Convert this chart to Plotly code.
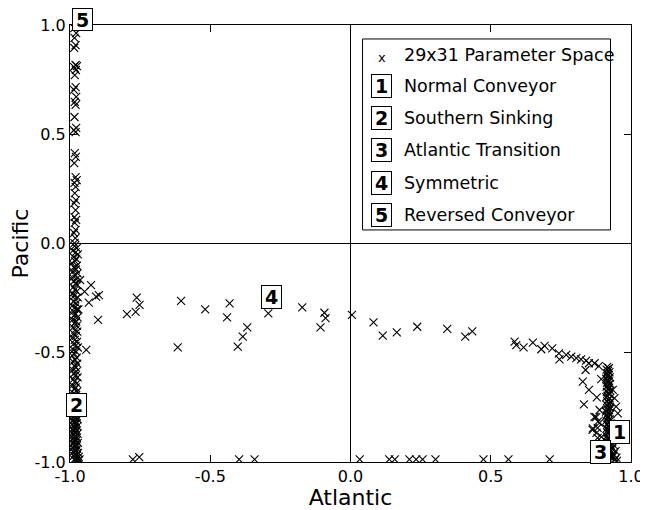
import plotly.graph_objects as go

# ---------------- data ----------------
# left column, upper half (Reversed Conveyor region)
left_upper = [(-0.985,0.986),(-0.978,0.963),(-0.984,0.941),(-0.98,0.908),(-0.985,0.895),(-0.98,0.817),
              (-0.975,0.812),(-0.986,0.808),(-0.979,0.794),(-0.983,0.771),(-0.98,0.716),(-0.986,0.703),
              (-0.978,0.671),(-0.983,0.648),(-0.98,0.634),(-0.984,0.579),(-0.978,0.529),(-0.986,0.519),
              (-0.98,0.51),(-0.983,0.414),(-0.979,0.396),(-0.985,0.368),(-0.98,0.304),(-0.976,0.29),
              (-0.984,0.277),(-0.98,0.259),(-0.983,0.231),(-0.979,0.199),(-0.985,0.185),(-0.98,0.153),
              (-0.984,0.121),(-0.978,0.108),(-0.983,0.094),(-0.98,0.062),(-0.986,0.048),(-0.981,0.025),
              (-0.984,0.002)]

left_mid_x = [-0.984,-0.976,-0.99,-0.98,-0.972,-0.987,-0.978,-0.982,-0.993,-0.975,
              -0.985,-0.979,-0.989,-0.973,-0.983,-0.991,-0.977,-0.986,-0.98,-0.974,
              -0.988,-0.982,-0.976,-0.99,-0.985,-0.972,-0.981,-0.987,-0.977,-0.992,
              -0.983,-0.975,-0.988,-0.98,-0.986,-0.973,-0.99,-0.978,-0.984,-0.976,
              -0.989,-0.981,-0.974,-0.987,-0.979,-0.991,-0.983,-0.975,-0.986,-0.98,
              -0.972,-0.988,-0.978,-0.985,-0.992,-0.976,-0.982,-0.989,-0.974,-0.984,
              -0.979,-0.99,-0.977,-0.986,-0.981,-0.973,-0.988,-0.983,-0.976,-0.991,
              -0.98,-0.985,-0.974,-0.987,-0.978,-0.99,-0.982,-0.975,-0.986,-0.98,
              -0.984]
left_mid_y = [-0.012,-0.021,-0.033,-0.041,-0.05,-0.062,-0.07,-0.081,-0.09,-0.101,
              -0.108,-0.119,-0.128,-0.137,-0.145,-0.156,-0.163,-0.172,-0.183,-0.19,
              -0.2,-0.211,-0.219,-0.228,-0.24,-0.247,-0.256,-0.266,-0.274,-0.285,
              -0.293,-0.302,-0.311,-0.322,-0.33,-0.338,-0.349,-0.357,-0.366,-0.377,
              -0.384,-0.395,-0.403,-0.412,-0.423,-0.43,-0.441,-0.45,-0.458,-0.469,
              -0.476,-0.487,-0.495,-0.504,-0.514,-0.522,-0.532,-0.541,-0.55,-0.559,
              -0.568,-0.578,-0.586,-0.595,-0.605,-0.613,-0.622,-0.632,-0.64,-0.65,
              -0.659,-0.667,-0.677,-0.686,-0.694,-0.703,-0.713,-0.722,-0.73,-0.74,
              -0.748]

left_lower = [(-0.982,-0.752),(-0.976,-0.757),(-0.988,-0.762),(-0.979,-0.766),(-0.985,-0.771),(-0.974,-0.776),
              (-0.99,-0.78),(-0.98,-0.785),(-0.986,-0.79),(-0.977,-0.795),(-0.983,-0.8),(-0.973,-0.804),
              (-0.989,-0.809),(-0.98,-0.814),(-0.985,-0.818),(-0.976,-0.823),(-0.982,-0.828),(-0.988,-0.832),
              (-0.974,-0.837),(-0.984,-0.842),(-0.979,-0.846),(-0.99,-0.851),(-0.977,-0.856),(-0.986,-0.86),
              (-0.981,-0.865),(-0.973,-0.87),(-0.987,-0.874),(-0.98,-0.879),(-0.984,-0.884),(-0.975,-0.888),
              (-0.989,-0.893),(-0.982,-0.898),(-0.977,-0.902),(-0.985,-0.907),(-0.972,-0.912),(-0.988,-0.916),
              (-0.981,-0.921),(-0.976,-0.926),(-0.984,-0.93),(-0.99,-0.935),(-0.974,-0.94),(-0.983,-0.944),
              (-0.978,-0.949),(-0.987,-0.954),(-0.971,-0.958),(-0.982,-0.963),(-0.976,-0.968),(-0.986,-0.972),
              (-0.969,-0.977),(-0.98,-0.982),(-0.975,-0.986),(-0.984,-0.99),(-0.968,-0.992),(-0.978,-0.995),
              (-0.966,-0.988)]

middle = [(-0.964,-0.167),(-0.925,-0.19),(-0.948,-0.22),(-0.907,-0.243),(-0.897,-0.236),(-0.933,-0.271),
          (-0.97,-0.301),(-0.90,-0.35),(-0.762,-0.248),(-0.752,-0.281),(-0.797,-0.323),(-0.766,-0.313),
          (-0.604,-0.263),(-0.518,-0.301),(-0.942,-0.487),(-0.616,-0.475),(-0.431,-0.274),(-0.44,-0.338),
          (-0.368,-0.384),(-0.384,-0.426),(-0.402,-0.472),(-0.293,-0.32),(-0.172,-0.292),(-0.093,-0.317),
          (-0.089,-0.342),(-0.107,-0.384),(0.005,-0.327),(0.082,-0.361),(0.115,-0.422),(0.165,-0.407),
          (0.238,-0.381),(0.345,-0.391),(0.409,-0.426),(0.434,-0.402)]

curve = [(0.585,-0.449),(0.591,-0.465),(0.617,-0.475),(0.65,-0.454),(0.68,-0.484),(0.692,-0.469),
         (0.719,-0.48),(0.743,-0.503),(0.745,-0.53),(0.769,-0.51),(0.787,-0.518),(0.805,-0.525),
         (0.822,-0.53),(0.84,-0.536),(0.85,-0.548),(0.87,-0.548),(0.885,-0.561),(0.838,-0.579),
         (0.828,-0.632),(0.85,-0.67),(0.878,-0.704),(0.832,-0.736),(0.894,-0.621),(0.876,-0.795),
         (0.864,-0.846),(0.882,-0.815),(0.888,-0.762),(0.87,-0.794),(0.888,-0.821),(0.881,-0.844),
         (0.863,-0.853),(0.877,-0.867),(0.895,-0.885),(0.881,-0.89),(0.935,-0.67),(0.941,-0.708),
         (0.947,-0.747),(0.953,-0.777)]

right_column = [(0.915,-0.565),(0.921,-0.571),(0.913,-0.577),(0.918,-0.583),(0.923,-0.589),(0.914,-0.595),
                (0.92,-0.601),(0.916,-0.607),(0.924,-0.613),(0.912,-0.619),(0.919,-0.625),(0.922,-0.631),
                (0.915,-0.637),(0.925,-0.643),(0.917,-0.649),(0.913,-0.655),(0.921,-0.661),(0.918,-0.667),
                (0.926,-0.673),(0.914,-0.679),(0.92,-0.685),(0.923,-0.691),(0.916,-0.697),(0.912,-0.703),
                (0.924,-0.709),(0.919,-0.715),(0.915,-0.721),(0.927,-0.727),(0.921,-0.733),(0.913,-0.739),
                (0.918,-0.745),(0.925,-0.751),(0.916,-0.757),(0.922,-0.763),(0.911,-0.769),(0.919,-0.775),
                (0.926,-0.781),(0.914,-0.787),(0.92,-0.793),(0.917,-0.799),(0.924,-0.805),(0.912,-0.811),
                (0.921,-0.817),(0.927,-0.823),(0.915,-0.829),(0.919,-0.835),(0.923,-0.841),(0.913,-0.847),
                (0.918,-0.853),(0.925,-0.859),(0.916,-0.865),(0.921,-0.871),(0.928,-0.877),(0.914,-0.883),
                (0.92,-0.889),(0.917,-0.895),(0.926,-0.901),(0.912,-0.907),(0.922,-0.913),(0.918,-0.919),
                (0.929,-0.925),(0.915,-0.931),(0.921,-0.937),(0.925,-0.943),(0.913,-0.949),(0.919,-0.955),
                (0.927,-0.961),(0.916,-0.967),(0.922,-0.973),(0.93,-0.979),(0.914,-0.985),(0.92,-0.991),
                (0.926,-0.995),(0.935,-0.9),(0.94,-0.925),(0.945,-0.95),(0.938,-0.965),(0.948,-0.98),
                (0.942,-0.99),(0.933,-0.94),(0.95,-0.995),(0.936,-0.975)]

bottom_row = [(-0.776,-0.988),(-0.753,-0.978),(-0.397,-0.988),(-0.342,-0.988),(0.033,-0.988),(0.138,-0.988),
              (0.158,-0.988),(0.21,-0.988),(0.234,-0.988),(0.257,-0.988),(0.303,-0.988),(0.474,-0.988),
              (0.563,-0.988),(0.71,-0.988)]

# regime labels: (number, x, y)
regimes = [("1", 0.959, -0.862), ("2", -0.977, -0.739), ("3", 0.891, -0.956), ("4", -0.28, -0.247)]
regime5 = ("5", -0.957, 1.024)

legend_entries = ["Normal Conveyor", "Southern Sinking", "Atlantic Transition", "Symmetric", "Reversed Conveyor"]
legend_title_entry = "29x31 Parameter Space"
tick_vals = [-1.0, -0.5, 0.0, 0.5, 1.0]
tick_text = ["-1.0", "-0.5", "0.0", "0.5", "1.0"]

# ---------------- build ----------------
xs, ys = [], []
for grp in (left_upper, left_lower, middle, curve, right_column, bottom_row):
    for a, b in grp:
        xs.append(a)
        ys.append(b)
xs += left_mid_x
ys += left_mid_y

FONT = "DejaVu Sans"
fig = go.Figure()
fig.add_trace(go.Scatter(x=xs, y=ys, mode="markers",
                         marker=dict(symbol="x-thin", size=8, color="black",
                                     line=dict(width=1.1, color="black")),
                         showlegend=False, hoverinfo="skip"))

axis_common = dict(range=[-1, 1], tickvals=tick_vals, ticktext=tick_text,
                   ticks="inside", ticklen=7, tickcolor="black", tickwidth=1,
                   showline=True, linecolor="black", linewidth=1, mirror="ticks",
                   showgrid=False, zeroline=True, zerolinecolor="black", zerolinewidth=1,
                   automargin=False,
                   tickfont=dict(family=FONT, size=16, color="black"))

# page body has an 8px margin, so the figure is 640x502 and fills the 648x510 window
fig.update_layout(
    width=640, height=502,
    margin=dict(l=62, r=17, t=17, b=48),
    paper_bgcolor="white", plot_bgcolor="white",
    xaxis=dict(**axis_common, title=dict(text="Atlantic", font=dict(family=FONT, size=22, color="black"), standoff=0)),
    yaxis=dict(**axis_common, title=dict(text="Pacific", font=dict(family=FONT, size=22, color="black"), standoff=4)),
)

anns = []
def boxed(num, x, y, xref="x", yref="y", h=22):
    return dict(text="<b>%s</b>" % num, x=x, y=y, xref=xref, yref=yref, showarrow=False,
                font=dict(family=FONT, size=19, color="black"), bgcolor="white",
                bordercolor="black", borderwidth=1, borderpad=0, width=19, height=h,
                xanchor="center", yanchor="middle")

for num, x, y in regimes:
    anns.append(boxed(num, x, y))
# regime 5 sits above the frame: use paper coords
anns.append(boxed(regime5[0], (regime5[1] + 1) / 2, (regime5[2] + 1) / 2, "paper", "paper", h=21))

# legend box
fig.add_shape(type="rect", xref="x", yref="y", x0=0.043, x1=0.927, y0=0.062, y1=0.936,
              line=dict(color="black", width=1), fillcolor="white", layer="above")
row_y = [0.863, 0.721, 0.574, 0.428, 0.277, 0.130]
anns.append(dict(text="x", x=0.113, y=row_y[0] - 0.012, xref="x", yref="y", showarrow=False,
                 font=dict(family=FONT, size=13, color="black"), xanchor="center", yanchor="middle"))
anns.append(dict(text=legend_title_entry, x=0.185, y=row_y[0], xref="x", yref="y", showarrow=False,
                 font=dict(family=FONT, size=17.5, color="black"), xanchor="left", yanchor="middle"))
for i, lab in enumerate(legend_entries):
    anns.append(boxed(str(i + 1), 0.112, row_y[i + 1]))
    anns.append(dict(text=lab, x=0.185, y=row_y[i + 1], xref="x", yref="y", showarrow=False,
                     font=dict(family=FONT, size=17.5, color="black"), xanchor="left", yanchor="middle"))

fig.update_layout(annotations=anns)
fig.write_html("out.html")
